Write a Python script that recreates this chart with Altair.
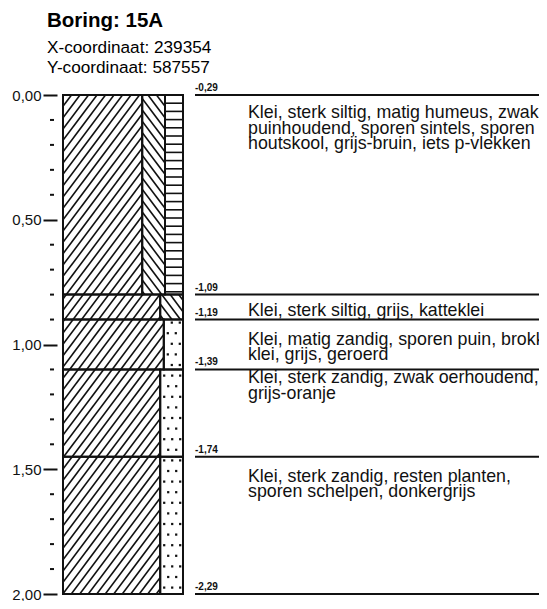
import math
import altair as alt
import pandas as pd

# ---------------- data ----------------
boring_id = "Boring: 15A"
coords = ["X-coordinaat: 239354", "Y-coordinaat: 587557"]

layer_top = [0.00, 0.80, 0.90, 1.10, 1.45]
layer_bottom = [0.80, 0.90, 1.10, 1.45, 2.00]
boundary_depth = [0.00, 0.80, 0.90, 1.10, 1.45, 2.00]
nap_level = ["-0,29", "-1,09", "-1,19", "-1,39", "-1,74", "-2,29"]
description = [
    ["Klei, sterk siltig, matig humeus, zwak",
     "puinhoudend, sporen sintels, sporen",
     "houtskool, grijs-bruin, iets p-vlekken"],
    ["Klei, sterk siltig, grijs, katteklei"],
    ["Klei, matig zandig, sporen puin, brokken",
     "klei, grijs, geroerd"],
    ["Klei, sterk zandig, zwak oerhoudend,",
     "grijs-oranje"],
    ["Klei, sterk zandig, resten planten,",
     "sporen schelpen, donkergrijs"],
]
# make-up of the column per layer: (component, share of column width in %)
components = [
    [("klei", 66), ("silt", 19), ("humus", 15)],
    [("klei", 81), ("silt", 19)],
    [("klei", 84), ("zand", 16)],
    [("klei", 81), ("zand", 19)],
    [("klei", 81), ("zand", 19)],
]
major_ticks = [0.0, 0.5, 1.0, 1.5, 2.0]
minor_ticks = [0.1, 0.2, 0.3, 0.4, 0.6, 0.7, 0.8, 0.9,
               1.1, 1.2, 1.3, 1.4, 1.6, 1.7, 1.8, 1.9]

# ---------------- layout ----------------
W, H = 476, 499            # plot area (px); whole svg = 531 x 593
DMAX = 2.0
PXM = H / DMAX             # px per metre
COL_W = 120                # column width (x units == px)
TEXT_DY = [23, 21, 25, 14, 25]   # first-baseline offset of each description
INK = "#111111"
FONT = "Liberation Sans"

xs = alt.Scale(domain=[0, W], nice=False, zero=False)
ys = alt.Scale(domain=[0, DMAX], reverse=True, nice=False, zero=False)

# ---------------- derived tables ----------------
rect_rows, hatch_rows, hline_rows, dot_rows = [], [], [], []


def diag(x0, x1, y0, y1, sign, spacing=8.5, k=0.75):
    """hatch segments inside a rect (px space); sign=+1 '/', -1 '\\'"""
    out = []
    if sign > 0:   # x + k*y = C
        cmin, cmax = x0 + k * y0, x1 + k * y1
    else:          # x - k*y = C
        cmin, cmax = x0 - k * y1, x1 - k * y0
    n0, n1 = math.ceil(cmin / spacing), math.floor(cmax / spacing)
    for n in range(n0, n1 + 1):
        c = n * spacing
        if sign > 0:
            lo, hi = (c - x1) / k, (c - x0) / k
        else:
            lo, hi = (x0 - c) / k, (x1 - c) / k
        ya, yb = max(y0, lo), min(y1, hi)
        if yb - ya < 0.5:
            continue
        xa = c - sign * k * ya
        xb = c - sign * k * yb
        out.append((xa, ya, xb, yb))
    return out


for i, comps in enumerate(components):
    y0, y1 = layer_top[i] * PXM, layer_bottom[i] * PXM
    xcur = 0.0
    for name, share in comps:
        w = COL_W * share / 100.0
        x0, x1 = xcur, xcur + w
        rect_rows.append(dict(x=x0, x2=x1, y=layer_top[i], y2=layer_bottom[i], comp=name))
        if name in ("klei", "silt"):
            sign = 1 if name == "klei" else -1
            for xa, ya, xb, yb in diag(x0, x1, y0, y1, sign):
                hatch_rows.append(dict(x=xa, y=ya / PXM, x2=xb, y2=yb / PXM))
        elif name == "humus":
            step = 8.2
            n = math.floor(y0 / step) + 1
            while n * step < y1 - 1:
                hline_rows.append(dict(x=x0, x2=x1, y=n * step / PXM))
                n += 1
        elif name == "zand":
            step = 10.6
            n = math.floor(y0 / step)
            while n * step < y1:
                yy = n * step + 5
                if y0 + 3 < yy < y1 - 3:
                    offs = [4, 12, 20] if n % 2 == 0 else [8, 16]
                    for o in offs:
                        if x0 + o < x1 - 2.5:
                            dot_rows.append(dict(x=x0 + o, y=yy / PXM))
                n += 1
        xcur = x1

rects = pd.DataFrame(rect_rows)
hatch = pd.DataFrame(hatch_rows)
hlines = pd.DataFrame(hline_rows)
dots = pd.DataFrame(dot_rows)
bounds = pd.DataFrame({"depth": boundary_depth, "nap": nap_level})
texts = pd.DataFrame({
    "depth": [t + d / PXM for t, d in zip(layer_top, TEXT_DY)],
    "text": ["\n".join(lines) for lines in description],
})
minor = pd.DataFrame({"depth": minor_ticks})

# ---------------- chart ----------------
y_axis = alt.Axis(
    values=major_ticks,
    labelExpr="replace(format(datum.value, '.2f'), '.', ',')",
    title=None, grid=False, domain=False,
    tickSize=14, tickWidth=2, tickColor=INK, offset=6,
    labelPadding=2, labelFontSize=15, labelColor=INK, labelFont=FONT,
)


def Y(field):
    return alt.Y(field, scale=ys, axis=y_axis)


def X(field):
    return alt.X(field, scale=xs, axis=None)


cells = alt.Chart(rects).mark_rect(fill="white", strokeWidth=0).encode(
    x=X("x:Q"), x2="x2:Q", y=Y("y:Q"), y2="y2:Q",
)

hatch_l = alt.Chart(hatch).mark_rule(color=INK, strokeWidth=1.6).encode(
    x=X("x:Q"), x2="x2:Q", y=Y("y:Q"), y2="y2:Q",
)

hline_l = alt.Chart(hlines).mark_rule(color=INK, strokeWidth=1.6).encode(
    x=X("x:Q"), x2="x2:Q", y=Y("y:Q"),
)

dot_l = alt.Chart(dots).mark_square(color=INK, size=5, opacity=1).encode(
    x=X("x:Q"), y=Y("y:Q"),
)

outline = alt.Chart(rects).mark_rect(
    fill="transparent", stroke=INK, strokeWidth=2
).encode(
    x=X("x:Q"), x2="x2:Q", y=Y("y:Q"), y2="y2:Q",
)

minor_l = alt.Chart(minor).mark_rule(color=INK, strokeWidth=2).encode(
    x=alt.value(-13), x2=alt.value(-9), y=Y("depth:Q"),
)

bound_l = alt.Chart(bounds).mark_rule(color=INK, strokeWidth=2).encode(
    x=alt.value(132), x2=alt.value(W), y=Y("depth:Q"),
)

nap_l = alt.Chart(bounds).mark_text(
    align="left", baseline="alphabetic", dy=-4,
    font=FONT, fontSize=10, fontWeight="bold", color=INK,
).encode(
    x=alt.value(132), y=Y("depth:Q"), text="nap:N",
)

desc_l = alt.Chart(texts).mark_text(
    align="left", baseline="alphabetic", lineBreak="\n", lineHeight=15.7,
    font=FONT, fontSize=17.8, color=INK,
).encode(
    x=alt.value(185), y=Y("depth:Q"), text="text:N",
)

chart = alt.layer(
    cells, hatch_l, hline_l, dot_l, outline, minor_l, bound_l, nap_l, desc_l
).properties(
    width=W, height=H,
    autosize=alt.AutoSizeParams(type="none"),
    padding={"left": 55, "top": 87, "right": 0, "bottom": 7},
    title=alt.TitleParams(
        text=boring_id, subtitle=coords, anchor="start", frame="group",
        dx=-16, offset=7, font=FONT, fontSize=20.5, fontWeight="bold", color="#000",
        subtitleFont=FONT, subtitleFontSize=17.2, subtitleColor="#000",
        subtitleLineHeight=20, subtitlePadding=7,
    ),
    background="white",
).configure_view(strokeWidth=0)

chart.save("out.html", embed_options={"renderer": "svg", "actions": False})
